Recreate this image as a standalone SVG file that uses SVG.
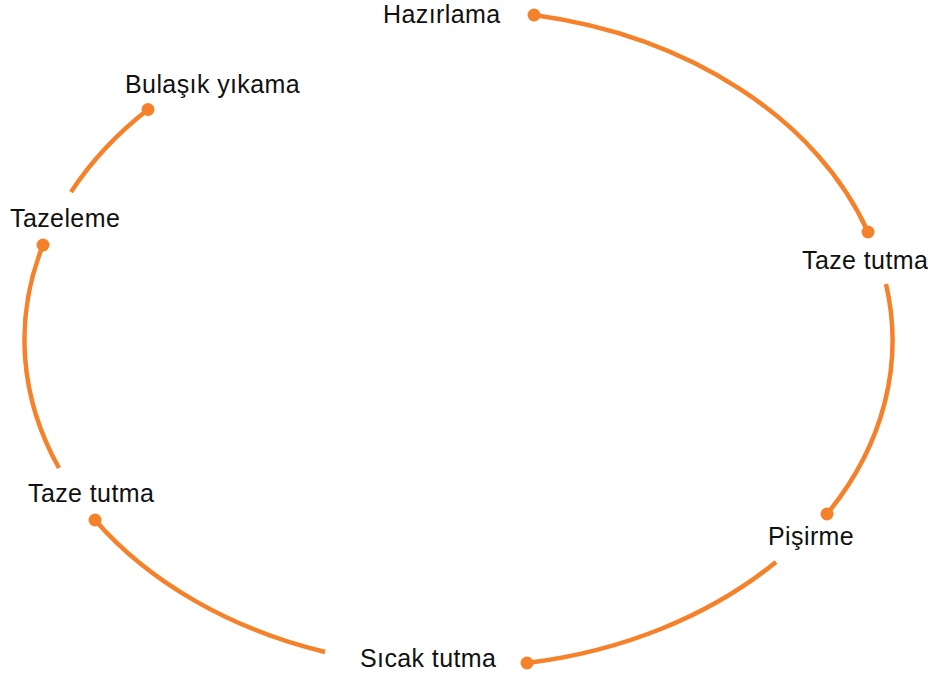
<svg xmlns="http://www.w3.org/2000/svg" width="928" height="677" viewBox="0 0 928 677">
<style>
.arc{fill:none;stroke:#F5822A;stroke-width:4.5;stroke-linecap:butt}
.dot{fill:#F5822A}
.lbl{font-family:"Liberation Sans",Arial,sans-serif;font-size:25px;letter-spacing:0.4px;fill:#111}
</style>
<rect width="928" height="677" fill="#fff"/>
<g id="connectors">
<path class="arc" d="M534,15 A434,328 0 0 1 868,232"/>
<path class="arc" d="M886,284 A434,328 0 0 1 827,514"/>
<path class="arc" d="M776,562 A434,328 0 0 1 527,663"/>
<path class="arc" d="M325,652 A434,328 0 0 1 95,520"/>
<path class="arc" d="M59,468 A434,328 0 0 1 43,245"/>
<path class="arc" d="M71,192 A434,328 0 0 1 148,109.5"/>
</g>
<g id="n-hazirlama"><circle class="dot" cx="534" cy="15" r="6.5"/><text class="lbl" x="383" y="23">Hazırlama</text></g>
<g id="n-taze-tutma-1"><circle class="dot" cx="868" cy="232" r="6.5"/><text class="lbl" x="802" y="269">Taze tutma</text></g>
<g id="n-pisirme"><circle class="dot" cx="827" cy="514" r="6.5"/><text class="lbl" x="768" y="545">Pişirme</text></g>
<g id="n-sicak-tutma"><circle class="dot" cx="527" cy="663" r="6.5"/><text class="lbl" x="360" y="667">Sıcak tutma</text></g>
<g id="n-taze-tutma-2"><circle class="dot" cx="95" cy="520" r="6.5"/><text class="lbl" x="28" y="502">Taze tutma</text></g>
<g id="n-tazeleme"><circle class="dot" cx="43" cy="245" r="6.5"/><text class="lbl" x="10" y="227">Tazeleme</text></g>
<g id="n-bulasik"><circle class="dot" cx="148" cy="109.5" r="6.5"/><text class="lbl" x="125" y="93">Bulaşık yıkama</text></g>
</svg>
